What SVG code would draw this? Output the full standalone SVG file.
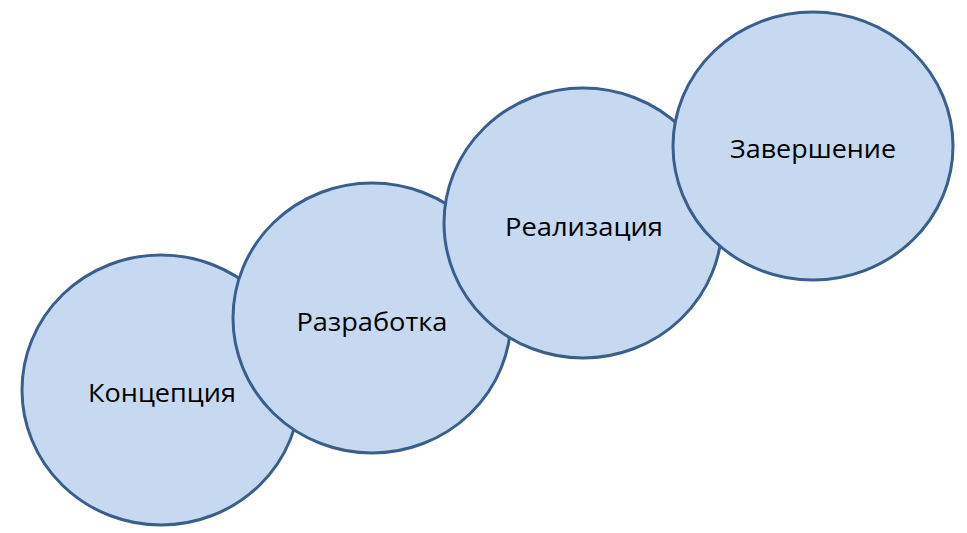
<svg xmlns="http://www.w3.org/2000/svg" width="967" height="533" viewBox="0 0 967 533">
<style>
.c{fill:#c6d9f0;stroke:#3b5f8c;stroke-width:3}
.t{font-family:"Open Sans","Noto Sans",sans-serif;font-size:26px;fill:#000;text-anchor:middle}
</style>
<rect width="967" height="533" fill="#fff"/>
<g id="connectors"/>
<g id="n1"><ellipse class="c" cx="161" cy="390" rx="139" ry="135"/><text class="t" x="162" y="402" textLength="148" lengthAdjust="spacingAndGlyphs">Концепция</text></g>
<g id="n2"><ellipse class="c" cx="372" cy="318" rx="139" ry="135"/><text class="t" x="372" y="331" textLength="151" lengthAdjust="spacingAndGlyphs">Разработка</text></g>
<g id="n3"><ellipse class="c" cx="583" cy="223" rx="139" ry="135"/><text class="t" x="584" y="236" textLength="158" lengthAdjust="spacingAndGlyphs">Реализация</text></g>
<g id="n4"><ellipse class="c" cx="813" cy="146" rx="140" ry="134"/><text class="t" x="813" y="158" textLength="166" lengthAdjust="spacingAndGlyphs">Завершение</text></g>
</svg>
